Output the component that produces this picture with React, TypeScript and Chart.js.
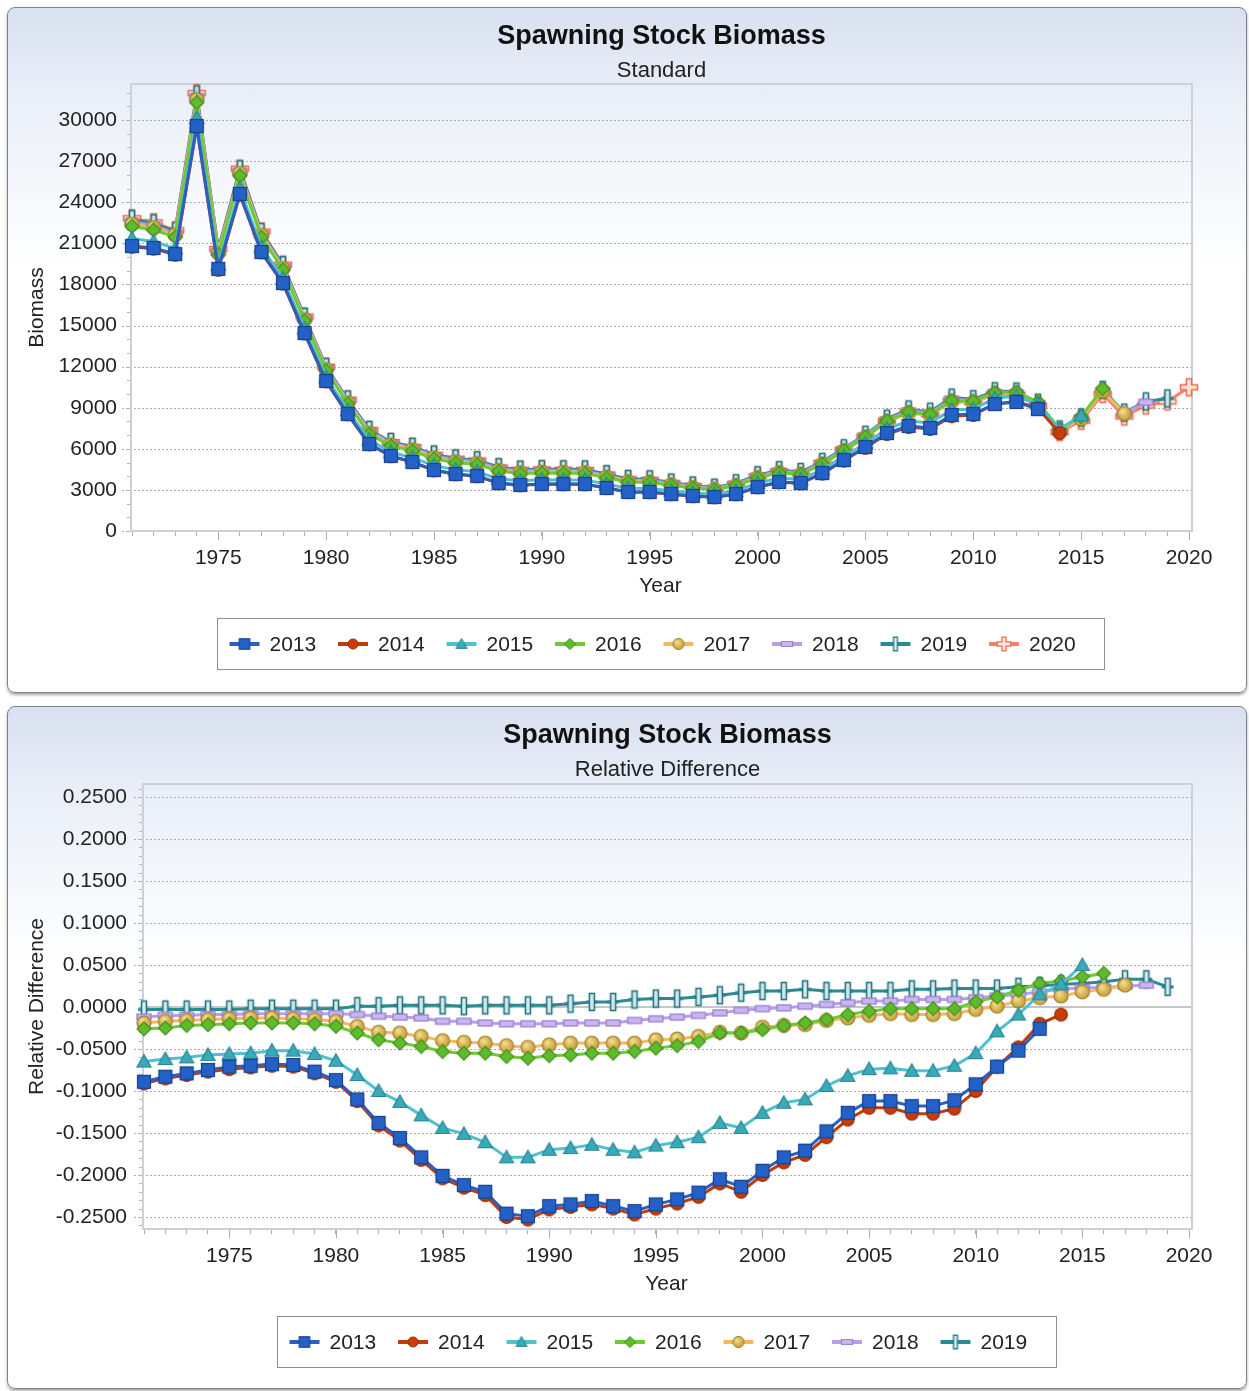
import React, { useEffect, useRef } from 'react';
import { Chart, registerables } from 'chart.js';

Chart.register(...registerables);

const FONT = '"Liberation Sans", Arial, Helvetica, sans-serif';

// ---------- data ----------
const YEARS = [
  1971, 1972, 1973, 1974, 1975, 1976, 1977, 1978, 1979, 1980,
  1981, 1982, 1983, 1984, 1985, 1986, 1987, 1988, 1989, 1990,
  1991, 1992, 1993, 1994, 1995, 1996, 1997, 1998, 1999, 2000,
  2001, 2002, 2003, 2004, 2005, 2006, 2007, 2008, 2009, 2010,
  2011, 2012, 2013, 2014, 2015, 2016, 2017, 2018, 2019, 2020,
];

const SERIES_LABELS = ['2013', '2014', '2015', '2016', '2017', '2018', '2019', '2020'];

const SSB_2013 = [20800, 20660, 20220, 29560, 19130, 24600, 20370, 18100, 14450, 10950, 8540, 6350, 5480, 5040, 4450, 4160, 4020, 3500, 3360, 3430, 3430, 3430, 3140, 2850, 2850, 2700, 2560, 2480, 2700, 3210, 3580, 3500, 4230, 5180, 6130, 7150, 7670, 7520, 8470, 8540, 9270, 9420, 8900];
const SSB_2014 = [20750, 20610, 20170, 29500, 19070, 24550, 20330, 18060, 14420, 10920, 8520, 6330, 5460, 5020, 4430, 4140, 4000, 3480, 3340, 3420, 3410, 3410, 3130, 2840, 2830, 2680, 2540, 2460, 2680, 3190, 3550, 3480, 4190, 5140, 6070, 7080, 7590, 7450, 8380, 8470, 9270, 9460, 8960, 7150];
const SSB_2015 = [21350, 21130, 20630, 30140, 19440, 25000, 20720, 18430, 14780, 11220, 8810, 6630, 5760, 5350, 4770, 4480, 4320, 3810, 3670, 3740, 3730, 3730, 3420, 3120, 3110, 2940, 2770, 2690, 2940, 3490, 3860, 3760, 4490, 5440, 6390, 7460, 8030, 7880, 8860, 8890, 9690, 9850, 9270, 7430, 8440];
const SSB_2016 = [22240, 21970, 21470, 31290, 20180, 25950, 21440, 19070, 15350, 11710, 9290, 7080, 6210, 5850, 5270, 4990, 4870, 4370, 4200, 4240, 4220, 4210, 3890, 3570, 3550, 3340, 3150, 3020, 3320, 3880, 4260, 4140, 4890, 5880, 6870, 8030, 8670, 8510, 9510, 9470, 10100, 10140, 9400, 7440, 8340, 10400];
const SSB_2017 = [22400, 22150, 21600, 31480, 20300, 26110, 21580, 19170, 15430, 11790, 9370, 7150, 6290, 5930, 5350, 5060, 4930, 4430, 4260, 4300, 4290, 4270, 3940, 3610, 3580, 3370, 3170, 3030, 3320, 3890, 4260, 4130, 4880, 5850, 6830, 7990, 8610, 8450, 9450, 9380, 9990, 10010, 9240, 7310, 8190, 10210, 8580];
const SSB_2018 = [22560, 22300, 21730, 31670, 20400, 26240, 21690, 19280, 15530, 11890, 9500, 7290, 6410, 6060, 5480, 5190, 5050, 4550, 4380, 4410, 4390, 4380, 4040, 3710, 3680, 3460, 3250, 3100, 3420, 3980, 4360, 4220, 4970, 5960, 6950, 8110, 8770, 8610, 9620, 9510, 10110, 10090, 9300, 7370, 8240, 10230, 8570, 9400];
const SSB_2019 = [22760, 22460, 21880, 31860, 20530, 26400, 21820, 19400, 15630, 11970, 9600, 7380, 6500, 6150, 5580, 5290, 5160, 4650, 4480, 4510, 4500, 4490, 4140, 3800, 3770, 3540, 3320, 3160, 3490, 4070, 4440, 4310, 5050, 6040, 7030, 8200, 8870, 8710, 9740, 9620, 10200, 10180, 9370, 7410, 8280, 10300, 8640, 9460, 9680];
const SSB_2020 = [22830, 22530, 21950, 31960, 20590, 26450, 21860, 19440, 15660, 11990, 9590, 7370, 6490, 6140, 5570, 5280, 5150, 4640, 4470, 4500, 4480, 4460, 4120, 3770, 3730, 3500, 3280, 3120, 3430, 3990, 4360, 4220, 4960, 5930, 6900, 8050, 8690, 8530, 9530, 9410, 9980, 9940, 9140, 7220, 8050, 10000, 8360, 9160, 9450, 10490];

const RD_2013 = [-0.089, -0.083, -0.079, -0.075, -0.071, -0.070, -0.068, -0.069, -0.077, -0.087, -0.110, -0.138, -0.156, -0.179, -0.201, -0.212, -0.220, -0.246, -0.249, -0.237, -0.235, -0.231, -0.237, -0.243, -0.235, -0.229, -0.221, -0.205, -0.214, -0.195, -0.179, -0.171, -0.148, -0.126, -0.112, -0.112, -0.118, -0.118, -0.111, -0.092, -0.071, -0.052, -0.026];
const RD_2014 = [-0.091, -0.085, -0.081, -0.077, -0.074, -0.072, -0.070, -0.071, -0.079, -0.089, -0.112, -0.141, -0.159, -0.182, -0.204, -0.215, -0.224, -0.250, -0.253, -0.241, -0.238, -0.235, -0.240, -0.247, -0.240, -0.234, -0.226, -0.210, -0.220, -0.200, -0.185, -0.176, -0.155, -0.134, -0.120, -0.120, -0.127, -0.127, -0.121, -0.100, -0.071, -0.048, -0.020, -0.009];
const RD_2015 = [-0.065, -0.062, -0.060, -0.057, -0.056, -0.055, -0.052, -0.052, -0.056, -0.064, -0.081, -0.100, -0.113, -0.129, -0.144, -0.151, -0.161, -0.179, -0.179, -0.170, -0.168, -0.164, -0.170, -0.173, -0.165, -0.161, -0.155, -0.138, -0.144, -0.126, -0.114, -0.110, -0.094, -0.082, -0.074, -0.073, -0.076, -0.076, -0.070, -0.055, -0.029, -0.009, 0.015, 0.027, 0.050];
const RD_2016 = [-0.026, -0.025, -0.022, -0.021, -0.020, -0.019, -0.019, -0.019, -0.020, -0.023, -0.031, -0.039, -0.043, -0.047, -0.053, -0.055, -0.055, -0.059, -0.061, -0.058, -0.057, -0.055, -0.055, -0.053, -0.049, -0.046, -0.041, -0.031, -0.031, -0.027, -0.022, -0.019, -0.015, -0.009, -0.005, -0.002, -0.002, -0.002, -0.002, 0.006, 0.012, 0.020, 0.028, 0.031, 0.036, 0.040];
const RD_2017 = [-0.019, -0.017, -0.016, -0.015, -0.014, -0.013, -0.013, -0.014, -0.015, -0.017, -0.023, -0.030, -0.031, -0.035, -0.040, -0.042, -0.043, -0.046, -0.048, -0.045, -0.043, -0.043, -0.043, -0.043, -0.039, -0.038, -0.035, -0.030, -0.031, -0.024, -0.022, -0.021, -0.016, -0.013, -0.010, -0.008, -0.009, -0.009, -0.008, -0.003, 0.001, 0.007, 0.011, 0.013, 0.018, 0.021, 0.026];
const RD_2018 = [-0.012, -0.010, -0.010, -0.009, -0.009, -0.008, -0.008, -0.008, -0.008, -0.008, -0.009, -0.011, -0.012, -0.013, -0.017, -0.017, -0.019, -0.020, -0.020, -0.020, -0.019, -0.019, -0.019, -0.016, -0.014, -0.012, -0.010, -0.007, -0.004, -0.002, -0.001, 0.001, 0.003, 0.005, 0.007, 0.007, 0.009, 0.009, 0.009, 0.011, 0.013, 0.015, 0.018, 0.021, 0.023, 0.023, 0.025, 0.026];
const RD_2019 = [-0.003, -0.003, -0.003, -0.003, -0.003, -0.002, -0.002, -0.002, -0.002, -0.002, 0.001, 0.001, 0.002, 0.002, 0.002, 0.001, 0.002, 0.002, 0.002, 0.002, 0.004, 0.006, 0.006, 0.009, 0.010, 0.010, 0.012, 0.014, 0.017, 0.019, 0.019, 0.021, 0.019, 0.019, 0.019, 0.019, 0.021, 0.021, 0.022, 0.022, 0.022, 0.024, 0.025, 0.027, 0.028, 0.030, 0.033, 0.033, 0.024];

const SSB_TICKS = [0, 3000, 6000, 9000, 12000, 15000, 18000, 21000, 24000, 27000, 30000];
const RD_TICKS = [-0.25, -0.2, -0.15, -0.1, -0.05, 0, 0.05, 0.1, 0.15, 0.2, 0.25];
const X_LABEL_YEARS = [1975, 1980, 1985, 1990, 1995, 2000, 2005, 2010, 2015, 2020];

// ---------- styles ----------
const SERIES_STYLE = [
  { line: '#2B5FC0', marker: 'square' },
  { line: '#C33B0C', marker: 'circle' },
  { line: '#4EC0CE', marker: 'triangle' },
  { line: '#6CCB34', marker: 'diamond' },
  { line: '#F5B860', marker: 'gold' },
  { line: '#B7A0E6', marker: 'flat' },
  { line: '#2B8A93', marker: 'vbar' },
  { line: '#F4826A', marker: 'plus' },
];

function makeMarker(kind: string, scale = 1): HTMLCanvasElement {
  const S = Math.ceil(22 * scale);
  const c = document.createElement('canvas');
  c.width = S;
  c.height = S;
  const g = c.getContext('2d') as CanvasRenderingContext2D;
  g.translate(S / 2, S / 2);
  g.scale(scale, scale);
  g.lineWidth = 1.2;
  switch (kind) {
    case 'square': {
      g.fillStyle = '#2461C6';
      g.fillRect(-7, -7, 14, 14);
      g.strokeStyle = '#1A4290';
      g.strokeRect(-6.5, -6.5, 13, 13);
      break;
    }
    case 'circle': {
      g.beginPath();
      g.arc(0, 0, 6.3, 0, Math.PI * 2);
      g.fillStyle = '#C63D0B';
      g.fill();
      g.strokeStyle = '#9B2D05';
      g.stroke();
      break;
    }
    case 'triangle': {
      g.beginPath();
      g.moveTo(0, -7);
      g.lineTo(7, 5.5);
      g.lineTo(-7, 5.5);
      g.closePath();
      g.fillStyle = '#39AABA';
      g.fill();
      g.strokeStyle = '#2A8594';
      g.stroke();
      break;
    }
    case 'diamond': {
      g.beginPath();
      g.moveTo(0, -7);
      g.lineTo(7, 0);
      g.lineTo(0, 7);
      g.lineTo(-7, 0);
      g.closePath();
      g.fillStyle = '#5EBB2B';
      g.fill();
      g.strokeStyle = '#458E1E';
      g.stroke();
      break;
    }
    case 'gold': {
      const gr = g.createRadialGradient(-2, -2.5, 1, 0, 0, 8);
      gr.addColorStop(0, '#F3D98A');
      gr.addColorStop(1, '#C0952B');
      g.beginPath();
      g.arc(0, 0, 7, 0, Math.PI * 2);
      g.fillStyle = gr;
      g.fill();
      g.strokeStyle = '#A3822C';
      g.stroke();
      break;
    }
    case 'flat': {
      g.fillStyle = '#C9B5EF';
      g.fillRect(-7, -3, 14, 6);
      g.strokeStyle = '#9479D0';
      g.strokeRect(-7, -3, 14, 6);
      break;
    }
    case 'vbar': {
      g.fillStyle = '#2B8A93';
      g.fillRect(-6, -1.5, 12, 3);
      g.fillStyle = '#D4ECEF';
      g.fillRect(-2.5, -8.5, 5, 17);
      g.strokeStyle = '#24747D';
      g.lineWidth = 1.6;
      g.strokeRect(-2.5, -8.5, 5, 17);
      break;
    }
    case 'plus': {
      const a = 2.6;
      const b = 8.5;
      g.beginPath();
      g.moveTo(-a, -b);
      g.lineTo(a, -b);
      g.lineTo(a, -a);
      g.lineTo(b, -a);
      g.lineTo(b, a);
      g.lineTo(a, a);
      g.lineTo(a, b);
      g.lineTo(-a, b);
      g.lineTo(-a, a);
      g.lineTo(-b, a);
      g.lineTo(-b, -a);
      g.lineTo(-a, -a);
      g.closePath();
      g.fillStyle = '#FDE2DA';
      g.fill();
      g.strokeStyle = '#EC6C4E';
      g.lineWidth = 1.5;
      g.stroke();
      break;
    }
  }
  return c;
}

type LegendItem = { label: string; color: string; marker: HTMLCanvasElement };
type Decor = {
  title: string;
  subtitle: string;
  xTitle: string;
  yTitle: string;
  grid: number[];
  minorMin: number;
  minorStep: number;
  minorCount: number;
  zeroLine: boolean;
  legend: LegendItem[];
};

function makeDecor(d: Decor) {
  const line = (ctx: CanvasRenderingContext2D, x1: number, y1: number, x2: number, y2: number) => {
    ctx.beginPath();
    ctx.moveTo(x1, y1);
    ctx.lineTo(x2, y2);
    ctx.stroke();
  };
  return {
    id: 'decor',
    beforeDatasetsDraw(chart: any) {
      const ctx = chart.ctx as CanvasRenderingContext2D;
      const { left, right, top, bottom } = chart.chartArea;
      const ys = chart.scales.y;
      const xs = chart.scales.x;
      const fr = right + 3;
      ctx.save();
      ctx.lineWidth = 1;
      ctx.strokeStyle = '#ABABAB';
      ctx.setLineDash([2, 2]);
      for (const v of d.grid) {
        if (d.zeroLine && v === 0) continue;
        const py = Math.round(ys.getPixelForValue(v)) + 0.5;
        line(ctx, left - 10, py, fr, py);
      }
      ctx.setLineDash([]);
      ctx.strokeStyle = '#B3B8BF';
      for (let i = 0; i <= d.minorCount; i++) {
        const v = d.minorMin + i * d.minorStep;
        const py = Math.round(ys.getPixelForValue(v)) + 0.5;
        if (py < top - 1 || py > bottom + 1) continue;
        line(ctx, left - 5, py, left, py);
      }
      ctx.strokeStyle = '#A8AEB6';
      for (const yr of X_LABEL_YEARS) {
        const px = Math.round(xs.getPixelForValue(yr)) + 0.5;
        line(ctx, px, bottom, px, bottom + 9);
      }
      if (d.zeroLine) {
        ctx.strokeStyle = '#C3C7CD';
        ctx.lineWidth = 2;
        const py = Math.round(ys.getPixelForValue(0));
        line(ctx, left, py, fr, py);
      }
      ctx.strokeStyle = '#CCD1D8';
      ctx.lineWidth = 2;
      ctx.strokeRect(left - 1, top, fr - left + 1, bottom - top);
      ctx.restore();
    },
    afterDraw(chart: any) {
      const ctx = chart.ctx as CanvasRenderingContext2D;
      const { left, right, top, bottom } = chart.chartArea;
      const cx = (left + right) / 2;
      ctx.save();
      ctx.textAlign = 'center';
      ctx.textBaseline = 'middle';
      ctx.fillStyle = '#111111';
      ctx.font = `bold 27px ${FONT}`;
      ctx.fillText(d.title, cx + 1, 29);
      ctx.fillStyle = '#222222';
      ctx.font = `22px ${FONT}`;
      ctx.fillText(d.subtitle, cx + 1, 63);
      ctx.font = `21px ${FONT}`;
      ctx.fillText(d.xTitle, cx, bottom + 55);
      ctx.save();
      ctx.translate(29, (top + bottom) / 2);
      ctx.rotate(-Math.PI / 2);
      ctx.fillText(d.yTitle, 0, 0);
      ctx.restore();

      // legend
      const step = 108.5;
      const boxW = Math.round(12 + d.legend.length * step + 7);
      const bx = Math.round(cx - boxW / 2) + 0.5;
      const by = Math.round(bottom + 87) + 0.5;
      const bh = 51;
      ctx.fillStyle = '#FFFFFF';
      ctx.fillRect(bx, by, boxW, bh);
      ctx.strokeStyle = '#8E8E8E';
      ctx.lineWidth = 1;
      ctx.strokeRect(bx, by, boxW, bh);
      d.legend.forEach((it, i) => {
        const x0 = bx + 12 + i * step;
        const yc = Math.round(by + bh / 2);
        ctx.strokeStyle = it.color;
        ctx.lineWidth = 4;
        ctx.beginPath();
        ctx.moveTo(x0, yc);
        ctx.lineTo(x0 + 30, yc);
        ctx.stroke();
        const m = it.marker;
        ctx.drawImage(m, x0 + 15 - m.width / 2, yc - m.height / 2);
        ctx.fillStyle = '#222222';
        ctx.font = `21px ${FONT}`;
        ctx.textAlign = 'left';
        ctx.textBaseline = 'middle';
        ctx.fillText(it.label, x0 + 40, yc + 1);
      });
      ctx.restore();
    },
  };
}

function buildConfig(variant: 'standard' | 'relative') {
  const isStd = variant === 'standard';
  const seriesData = isStd
    ? [SSB_2013, SSB_2014, SSB_2015, SSB_2016, SSB_2017, SSB_2018, SSB_2019, SSB_2020]
    : [RD_2013, RD_2014, RD_2015, RD_2016, RD_2017, RD_2018, RD_2019];
  const labels = SERIES_LABELS.slice(0, seriesData.length);
  const markers = labels.map((_, i) => makeMarker(SERIES_STYLE[i].marker, 1));
  const legendMarkers = labels.map((_, i) => makeMarker(SERIES_STYLE[i].marker, 0.8));

  const datasets = labels.map((lab, i) => ({
    label: lab,
    data: seriesData[i].map((v, j) => ({ x: YEARS[j], y: v })),
    borderColor: SERIES_STYLE[i].line,
    backgroundColor: SERIES_STYLE[i].line,
    borderWidth: 3,
    pointStyle: markers[i],
    pointRadius: 7,
    pointHoverRadius: 7,
    tension: 0,
    fill: false,
    clip: false,
  }));

  const decor = makeDecor({
    title: 'Spawning Stock Biomass',
    subtitle: isStd ? 'Standard' : 'Relative Difference',
    xTitle: 'Year',
    yTitle: isStd ? 'Biomass' : 'Relative Difference',
    grid: isStd ? SSB_TICKS : RD_TICKS,
    minorMin: isStd ? 0 : -0.26,
    minorStep: isStd ? 1000 : 0.01,
    minorCount: isStd ? 32 : 52,
    zeroLine: !isStd,
    legend: labels.map((lab, i) => ({ label: lab, color: SERIES_STYLE[i].line, marker: legendMarkers[i] })),
  });

  const tickFont = { size: 21, family: FONT };

  return {
    type: 'line' as const,
    data: { datasets },
    options: {
      responsive: false,
      animation: false as const,
      events: [],
      layout: { padding: { left: 0, right: 57, top: isStd ? 76 : 77, bottom: isStd ? 111 : 109 } },
      scales: {
        x: {
          type: 'linear' as const,
          min: 1971,
          max: 2020,
          afterBuildTicks: (s: any) => {
            s.ticks = YEARS.map((v) => ({ value: v }));
          },
          afterFit: (s: any) => {
            s.height = 50;
          },
          ticks: {
            autoSkip: false,
            maxRotation: 0,
            minRotation: 0,
            padding: 10,
            color: '#222222',
            font: tickFont,
            callback: (v: any) => (Number(v) % 5 === 0 ? String(v) : ''),
          },
          grid: { drawOnChartArea: false, drawTicks: true, tickLength: 5, color: '#A8AEB6', lineWidth: 1 },
          border: { display: false },
        },
        y: {
          type: 'linear' as const,
          min: isStd ? 0 : -0.2643,
          max: isStd ? 32630 : 0.2655,
          afterBuildTicks: (s: any) => {
            s.ticks = (isStd ? SSB_TICKS : RD_TICKS).map((v) => ({ value: v }));
          },
          afterFit: (s: any) => {
            s.width = isStd ? 124 : 136;
          },
          ticks: {
            padding: isStd ? 15 : 17,
            color: '#222222',
            font: tickFont,
            callback: (v: any) => (isStd ? String(v) : Number(v).toFixed(4)),
          },
          grid: { display: false, drawTicks: false },
          border: { display: false },
        },
      },
      plugins: {
        legend: { display: false },
        title: { display: false },
        tooltip: { enabled: false },
      },
    },
    plugins: [decor],
  };
}

function SSBChart({ variant, height }: { variant: 'standard' | 'relative'; height: number }) {
  const ref = useRef<HTMLCanvasElement | null>(null);
  useEffect(() => {
    if (!ref.current) return;
    const chart = new Chart(ref.current, buildConfig(variant) as any);
    return () => chart.destroy();
  }, [variant]);
  return <canvas ref={ref} width={1238} height={height} style={{ display: 'block', width: 1238, height }} />;
}

const panelStyle = (top: number, height: number): React.CSSProperties => ({
  position: 'absolute',
  left: 7,
  top,
  width: 1240,
  height,
  boxSizing: 'border-box',
  border: '1px solid #7A838F',
  borderRadius: 8,
  overflow: 'hidden',
  background: 'linear-gradient(180deg, #D8E1F0 0px, #EAEFF8 90px, #FFFFFF 260px)',
  boxShadow: '0 2px 3px rgba(0,0,0,0.35)',
});

export default function App() {
  return (
    <div style={{ position: 'absolute', left: 0, top: 0, width: 1249, height: 1391, background: '#FFFFFF' }}>
      <div style={panelStyle(7, 686)}>
        <SSBChart variant="standard" height={684} />
      </div>
      <div style={panelStyle(706, 683)}>
        <SSBChart variant="relative" height={681} />
      </div>
    </div>
  );
}
